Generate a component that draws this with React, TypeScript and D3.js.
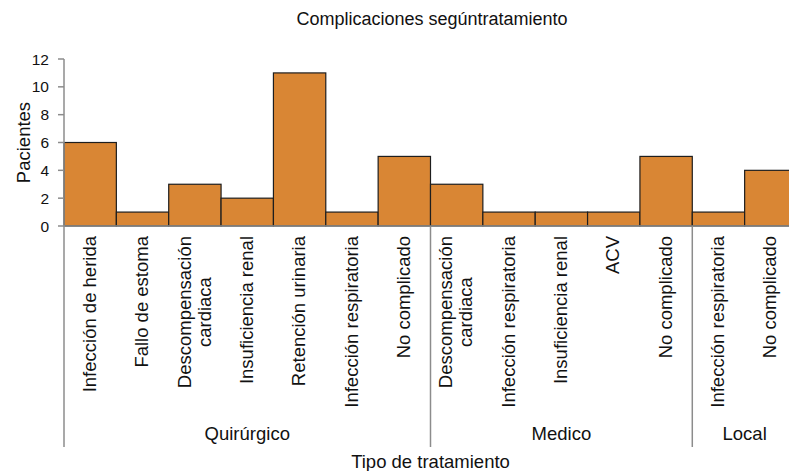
import React from 'react';
import * as d3 from 'd3';

const groups = ['Quirúrgico', 'Medico', 'Local'];
const groupOf = ['Quirúrgico', 'Quirúrgico', 'Quirúrgico', 'Quirúrgico', 'Quirúrgico', 'Quirúrgico', 'Quirúrgico',
  'Medico', 'Medico', 'Medico', 'Medico', 'Medico', 'Local', 'Local'];
const categories = [
  ['Infección de herida'], ['Fallo de estoma'], ['Descompensación', 'cardiaca'], ['Insuficiencia renal'],
  ['Retención urinaria'], ['Infección respiratoria'], ['No complicado'],
  ['Descompensación', 'cardiaca'], ['Infección respiratoria'], ['Insuficiencia renal'], ['ACV'], ['No complicado'],
  ['Infección respiratoria'], ['No complicado'],
];
const values = [6, 1, 3, 2, 11, 1, 5, 3, 1, 1, 1, 5, 1, 4];
const yTicks = [0, 2, 4, 6, 8, 10, 12];

const W = 789;
const H = 471;
const FONT = 'Liberation Sans, Arial, sans-serif';
const FS = 18.5;
const TICK_FS = 15.5;

let ctx: CanvasRenderingContext2D | null = null;
const textWidth = (s: string) => {
  if (!ctx) ctx = document.createElement('canvas').getContext('2d');
  if (!ctx) return s.length * 9;
  ctx.font = `${FS}px ${FONT}`;
  return ctx.measureText(s).width;
};

export default function App() {
  const ids = categories.map((_, i) => String(i));
  const x = d3.scaleBand().domain(ids).range([64, 797]).padding(0);
  const y = d3.scaleLinear().domain([0, 12]).range([226, 59]);
  const axisColor = '#8c8c8c';
  const labelTop = 236;
  const groupBottom = 447;

  // group extents from the band scale
  const spans = groups.map(g => {
    const idx = groupOf.map((gg, i) => (gg === g ? i : -1)).filter(i => i >= 0);
    const x0 = x(String(idx[0]))!;
    const x1 = x(String(idx[idx.length - 1]))! + x.bandwidth();
    return { g, x0, x1 };
  });

  return (
    <svg width={W} height={H} style={{ position: 'absolute', left: 0, top: 0 }} fontFamily={FONT}>
      <text x={432} y={25} textAnchor="middle" fontSize={FS - 0.5} fill="#111">Complicaciones segúntratamiento</text>

      {/* bars */}
      {values.map((v, i) => (
        <rect key={i} x={x(String(i))} y={y(v)} width={x.bandwidth()} height={y(0) - y(v)}
          fill="#d98634" stroke="#1e1e1e" strokeWidth={1.2} />
      ))}

      {/* y axis */}
      <line x1={64} x2={64} y1={y(12)} y2={groupBottom} stroke={axisColor} strokeWidth={1.5} />
      {yTicks.map(t => (
        <g key={t}>
          <line x1={58} x2={64} y1={y(t)} y2={y(t)} stroke={axisColor} strokeWidth={1.5} />
          <text x={49} y={y(t)} dy="0.36em" textAnchor="end" fontSize={TICK_FS} fill="#111">{t}</text>
        </g>
      ))}
      <text transform={`translate(23,${(y(0) + y(12)) / 2}) rotate(-90)`} dy="0.36em" textAnchor="middle" fontSize={FS} fill="#111">Pacientes</text>

      {/* baseline */}
      <line x1={64} x2={W} y1={y(0)} y2={y(0)} stroke={axisColor} strokeWidth={1.5} />

      {/* category labels */}
      {categories.map((lines, i) => {
        const cx = x(String(i))! + x.bandwidth() / 2;
        const maxW = d3.max(lines, l => textWidth(l))!;
        const mid = labelTop + maxW / 2;
        const step = 20;
        return lines.map((l, j) => {
          const lx = cx + (j - (lines.length - 1) / 2) * step - 1;
          return (
            <text key={`${i}-${j}`} transform={`translate(${lx},${mid}) rotate(-90)`} dy="0.36em" textAnchor="middle"
              fontSize={FS} fill="#111">{l}</text>
          );
        });
      })}

      {/* group separators and labels */}
      {spans.slice(1).map(s => (
        <line key={s.g} x1={s.x0} x2={s.x0} y1={y(0)} y2={groupBottom} stroke={axisColor} strokeWidth={1.5} />
      ))}
      {spans.map(s => (
        <text key={s.g} x={(s.x0 + s.x1) / 2} y={440} textAnchor="middle" fontSize={FS} fill="#111">{s.g}</text>
      ))}

      <text x={(x.range()[0] + x.range()[1]) / 2} y={468} textAnchor="middle" fontSize={FS} fill="#111">Tipo de tratamiento</text>
    </svg>
  );
}
